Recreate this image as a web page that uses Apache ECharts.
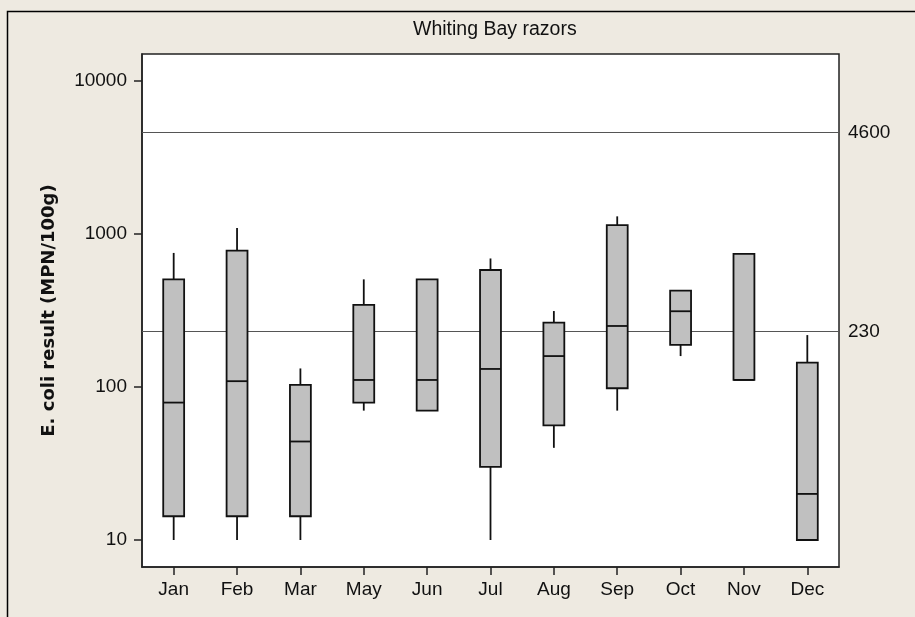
<!DOCTYPE html>
<html>
<head>
<meta charset="utf-8">
<script src="https://cdn.jsdelivr.net/npm/echarts@6/dist/echarts.min.js"></script>
<style>
  html, body { margin: 0; padding: 0; background: #eeeae1; }
  #chart { width: 915px; height: 617px; }
</style>
</head>
<body>
<div id="chart"></div>
<script>
// months shown on the x axis (no April samples)
const months = ['Jan', 'Feb', 'Mar', 'May', 'Jun', 'Jul', 'Aug', 'Sep', 'Oct', 'Nov', 'Dec'];
// box plot values, MPN/100g
const lowWhisker  = [10, 10, 10, 70, 70, 10, 40, 70, 159, 111, 10];
const q1          = [14.3, 14.3, 14.3, 79, 70, 30, 56, 98, 188, 111, 10];
const median      = [79, 109, 44, 111, 111, 131, 159, 250, 312, 111, 20];
const q3          = [504, 776, 103, 343, 504, 580, 263, 1140, 425, 740, 144];
const highWhisker = [750, 1090, 132, 504, 504, 690, 313, 1300, 425, 740, 218];
// classification limits drawn as reference lines
const limits = [4600, 230];
const yTicks = [10, 100, 1000, 10000];

const font = 'Liberation Sans';

const boxData = months.map((m, i) => [i, lowWhisker[i], q1[i], median[i], q3[i], highWhisker[i]]);

function renderBox(params, api) {
  const x = api.value(0);
  const lo = api.coord([x, api.value(1)]);
  const b = api.coord([x, api.value(2)]);
  const md = api.coord([x, api.value(3)]);
  const t = api.coord([x, api.value(4)]);
  const hi = api.coord([x, api.value(5)]);
  const w = api.size([1, 1])[0] * 0.33;
  const stroke = { stroke: '#111', lineWidth: 1.8 };
  return {
    type: 'group',
    children: [
      { type: 'line', shape: { x1: hi[0], y1: hi[1], x2: t[0], y2: t[1] }, style: stroke },
      { type: 'line', shape: { x1: b[0], y1: b[1], x2: lo[0], y2: lo[1] }, style: stroke },
      { type: 'rect', shape: { x: t[0] - w / 2, y: t[1], width: w, height: b[1] - t[1] },
        style: { fill: '#c0c0c0', stroke: '#111', lineWidth: 1.8 } },
      { type: 'line', shape: { x1: md[0] - w / 2, y1: md[1], x2: md[0] + w / 2, y2: md[1] }, style: stroke }
    ]
  };
}

const chart = echarts.init(document.getElementById('chart'));

chart.setOption({
  backgroundColor: '#eeeae1',
  animation: false,
  title: {
    text: 'Whiting Bay razors',
    left: 413,
    top: 20,
    padding: 0,
    textStyle: { fontFamily: font, fontSize: 19.5, fontWeight: 'normal', color: '#111' }
  },
  graphic: [{
    type: 'polyline',
    shape: { points: [[7.5, 617], [7.5, 11.5], [915, 11.5]] },
    style: { stroke: '#000', lineWidth: 1.5, fill: 'none' }
  }],
  grid: {
    left: 142,
    top: 54,
    width: 697,
    height: 513,
    show: true,
    backgroundColor: '#fff',
    borderColor: '#222',
    borderWidth: 1.5
  },
  xAxis: {
    type: 'category',
    data: months,
    boundaryGap: true,
    axisLine: { show: true, lineStyle: { color: '#222', width: 1.5 } },
    axisTick: { show: true, alignWithLabel: true, length: 8, lineStyle: { color: '#222', width: 1.5 } },
    axisLabel: { fontFamily: font, fontSize: 19, color: '#111', margin: 13 },
    splitLine: { show: false }
  },
  yAxis: {
    type: 'log',
    logBase: 10,
    min: 6.664,
    max: 14940,
    name: 'E. coli result (MPN/100g)',
    nameLocation: 'middle',
    nameGap: 84,
    nameTextStyle: { fontFamily: 'DejaVu Sans', fontSize: 18, fontWeight: 'bold', color: '#111' },
    axisLine: { show: true, lineStyle: { color: '#222', width: 1.5 } },
    axisTick: { show: true, length: 8, customValues: yTicks, lineStyle: { color: '#222', width: 1.5 } },
    axisLabel: {
      customValues: yTicks,
      fontFamily: font, fontSize: 19, color: '#111', margin: 15,
      formatter: v => String(Math.round(v))
    },
    splitLine: { show: false }
  },
  series: [
    {
      type: 'line',
      data: [],
      z: 1,
      markLine: {
        silent: true,
        symbol: 'none',
        lineStyle: { color: '#555', width: 1.2, type: 'solid' },
        label: { position: 'end', distance: 9, fontFamily: font, fontSize: 19, color: '#111', formatter: p => String(p.value) },
        data: limits.map(v => ({ yAxis: v }))
      }
    },
    {
      type: 'custom',
      z: 10,
      renderItem: renderBox,
      encode: { x: 0, y: [1, 2, 3, 4, 5] },
      data: boxData
    }
  ]
});
</script>
</body>
</html>
